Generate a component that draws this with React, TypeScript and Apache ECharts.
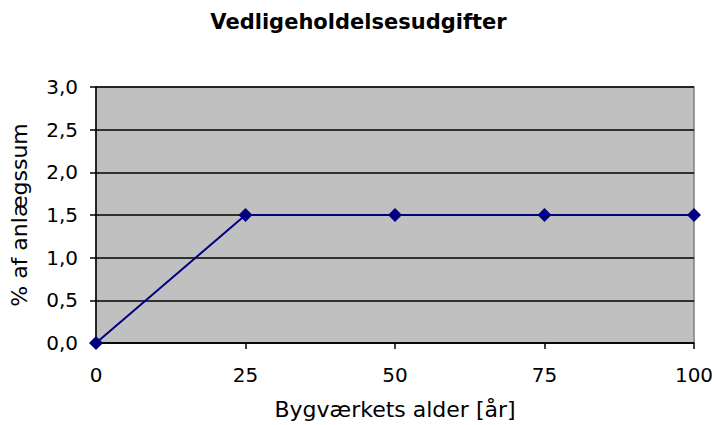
import React, { useEffect, useRef } from "react";
import * as echarts from "echarts";

const ages = [0, 25, 50, 75, 100];
const values = [0, 1.5, 1.5, 1.5, 1.5];
const titleText = "Vedligeholdelsesudgifter";
const xName = "Bygværkets alder [år]";
const yName = "% af anlægssum";

export default function App() {
  const ref = useRef<HTMLDivElement>(null);
  useEffect(() => {
    const chart = echarts.init(ref.current!, null, { renderer: "svg" });
    const font = "DejaVu Sans, Verdana, sans-serif";
    chart.setOption({
      animation: false,
      textStyle: { fontFamily: font },
      title: {
        text: titleText,
        left: "center",
        top: 6,
        textStyle: { fontFamily: font, fontWeight: "bold", fontSize: 21, color: "#000" },
      },
      grid: {
        left: 95,
        right: 23,
        top: 87,
        bottom: 80,
        show: true,
        backgroundColor: "#C0C0C0",
        borderColor: "#808080",
        borderWidth: 1.5,
      },
      xAxis: {
        type: "value",
        min: 0,
        max: 100,
        interval: 25,
        name: xName,
        nameLocation: "middle",
        nameGap: 55,
        nameTextStyle: { fontFamily: font, fontSize: 22, color: "#000" },
        axisLine: { show: true, lineStyle: { color: "#000", width: 1.5 } },
        axisTick: { show: true, length: 6, inside: false, lineStyle: { color: "#000", width: 1.5 } },
        axisLabel: { margin: 22, fontFamily: font, fontSize: 20, color: "#000" },
        splitLine: { show: false },
      },
      yAxis: {
        type: "value",
        min: 0,
        max: 3,
        interval: 0.5,
        name: yName,
        nameLocation: "middle",
        nameGap: 66,
        nameTextStyle: { fontFamily: font, fontSize: 22, color: "#000" },
        axisLine: { show: true, lineStyle: { color: "#000", width: 1.5 } },
        axisTick: { show: true, length: 6, lineStyle: { color: "#000", width: 1.5 } },
        axisLabel: {
          margin: 18,
          fontFamily: font,
          fontSize: 20,
          color: "#000",
          formatter: (v: number) => v.toFixed(1).replace(".", ","),
        },
        splitLine: { show: true, lineStyle: { color: "#000", width: 1.5 } },
      },
      series: [
        {
          type: "line",
          data: ages.map((a, i) => [a, values[i]]),
          lineStyle: { color: "#000080", width: 2 },
          itemStyle: { color: "#000080" },
          symbol: "diamond",
          symbolSize: 14,
          showSymbol: true,
        },
      ],
    });
    return () => chart.dispose();
  }, []);
  return <div ref={ref} style={{ width: 717, height: 425, position: "absolute", left: 0, top: 0 }} />;
}
